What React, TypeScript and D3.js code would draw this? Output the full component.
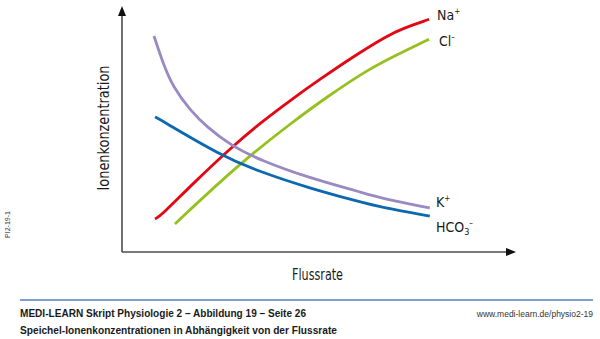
import React from "react";
import * as d3 from "d3";

// Flussrate (arbitrary units) and ion concentration (arbitrary units, 0-100)
const naX = [0.99, 1.18, 2.1, 3.22, 4.04, 5.01, 5.79, 6.76, 7.73, 8.21, 8.97];
const naY = [13.4, 15.0, 27.9, 42.6, 52.3, 62.5, 70.2, 79.4, 87.8, 90.9, 94.6];

const clX = [1.57, 3.46, 5.01, 5.98, 7.24, 8.21, 8.97];
const clY = [11.4, 36.1, 53.0, 62.9, 74.7, 81.4, 86.5];

const kX = [0.96, 1.22, 1.51, 2.01, 2.5, 3.22, 4.04, 5.5, 6.95, 7.53, 8.99];
const kY = [87.8, 76.8, 67.1, 57.7, 50.8, 43.1, 37.4, 30.0, 24.5, 22.0, 17.9];

const hcoX = [0.99, 1.13, 2.88, 4.04, 5.5, 6.95, 7.53, 8.99];
const hcoY = [54.9, 53.9, 39.4, 32.6, 25.9, 20.4, 18.3, 14.6];

const seriesNames = ["Na", "Cl", "K", "HCO3"];
const seriesColors = ["#e30613", "#95c11f", "#9a8ac3", "#0b68b1"];

const xAxisLabel = "Flussrate";
const yAxisLabel = "Ionenkonzentration";
const footerTitle = "MEDI-LEARN Skript Physiologie 2 – Abbildung 19 – Seite 26";
const footerSubtitle = "Speichel-Ionenkonzentrationen in Abhängigkeit von der Flussrate";
const footerUrl = "www.medi-learn.de/physio2-19";
const figureId = "PI2-19-1";

const W = 600;
const H = 339;

export default function App() {
  const x = d3.scaleLinear().domain([0, 11.5]).range([121, 516]);
  const y = d3.scaleLinear().domain([0, 100]).range([252, 6]);

  const line = d3
    .line<[number, number]>()
    .x((d) => x(d[0]))
    .y((d) => y(d[1]))
    .curve(d3.curveBasis);

  const series = [
    { xs: naX, ys: naY },
    { xs: clX, ys: clY },
    { xs: kX, ys: kY },
    { xs: hcoX, ys: hcoY },
  ];

  const font = "'DejaVu Sans Condensed', 'Roboto Condensed', Roboto, sans-serif";
  const x0 = x(0) + 1;
  const yBase = y(0);
  const yTop = y(100);
  const xEnd = x(11.5);

  return (
    <svg
      width={W}
      height={H}
      style={{ position: "absolute", left: 0, top: 0, background: "#fff" }}
    >
      <rect width={W} height={H} fill="#fff" />
      {/* axes */}
      <line x1={x0} y1={yBase} x2={x0} y2={yTop + 9} stroke="#4d4d4d" strokeWidth={1.6} />
      <line x1={x0} y1={yBase} x2={xEnd - 9} y2={yBase} stroke="#4d4d4d" strokeWidth={1.6} />
      <path
        d={`M${x0},${yTop} L${x0 - 4},${yTop + 10} L${x0 + 4},${yTop + 10} Z`}
        fill="#111"
      />
      <path
        d={`M${xEnd},${yBase} L${xEnd - 10},${yBase - 4} L${xEnd - 10},${yBase + 4} Z`}
        fill="#111"
      />

      {/* curves */}
      {series.map((s, i) => (
        <path
          key={seriesNames[i]}
          d={line(s.xs.map((v, j) => [v, s.ys[j]] as [number, number])) || ""}
          fill="none"
          stroke={seriesColors[i]}
          strokeWidth={2.8}
          strokeLinecap="butt"
        />
      ))}

      {/* series labels */}
      <text x={437} y={20} fontFamily={font} fontSize={14} fill="#1a1a1a">
        Na<tspan fontSize={8} dy={-6}>+</tspan>
      </text>
      <text x={439} y={46} fontFamily={font} fontSize={14} fill="#1a1a1a">
        Cl<tspan fontSize={8} dy={-6}>–</tspan>
      </text>
      <text x={436} y={207} fontFamily={font} fontSize={14} fill="#1a1a1a">
        K<tspan fontSize={8} dy={-6}>+</tspan>
      </text>
      <text x={436} y={232} fontFamily={font} fontSize={14} fill="#1a1a1a">
        HCO<tspan fontSize={9} dy={3}>3</tspan>
        <tspan fontSize={8} dy={-9}>–</tspan>
      </text>

      {/* axis titles */}
      <text
        transform={`translate(109,128) rotate(-90)`}
        textAnchor="middle"
        fontFamily={font}
        fontSize={15}
        fill="#1a1a1a"
        textLength={125}
        lengthAdjust="spacingAndGlyphs"
      >
        {yAxisLabel}
      </text>
      <text
        x={292}
        y={280}
        fontFamily={font}
        fontSize={15}
        fill="#1a1a1a"
        textLength={51}
        lengthAdjust="spacingAndGlyphs"
      >
        {xAxisLabel}
      </text>

      <text
        transform={`translate(10,238) rotate(-90)`}
        fontFamily="'Liberation Sans', Arial, sans-serif"
        fontSize={7}
        fill="#333"
        textLength={27}
        lengthAdjust="spacingAndGlyphs"
      >
        {figureId}
      </text>

      {/* footer */}
      <line x1={20} y1={300} x2={593} y2={300} stroke="#4f7fbf" strokeWidth={1.5} />
      <text
        x={20}
        y={317}
        fontFamily="'Liberation Sans', Arial, sans-serif"
        fontWeight="bold"
        fontSize={10}
        fill="#1a1a1a"
        textLength={286}
        lengthAdjust="spacingAndGlyphs"
      >
        {footerTitle}
      </text>
      <text
        x={20}
        y={334}
        fontFamily="'Liberation Sans', Arial, sans-serif"
        fontWeight="bold"
        fontSize={10}
        fill="#1a1a1a"
        textLength={317}
        lengthAdjust="spacingAndGlyphs"
      >
        {footerSubtitle}
      </text>
      <text
        x={593}
        y={317}
        textAnchor="end"
        fontFamily="'Liberation Sans', Arial, sans-serif"
        fontSize={8.5}
        fill="#333"
      >
        {footerUrl}
      </text>
    </svg>
  );
}
